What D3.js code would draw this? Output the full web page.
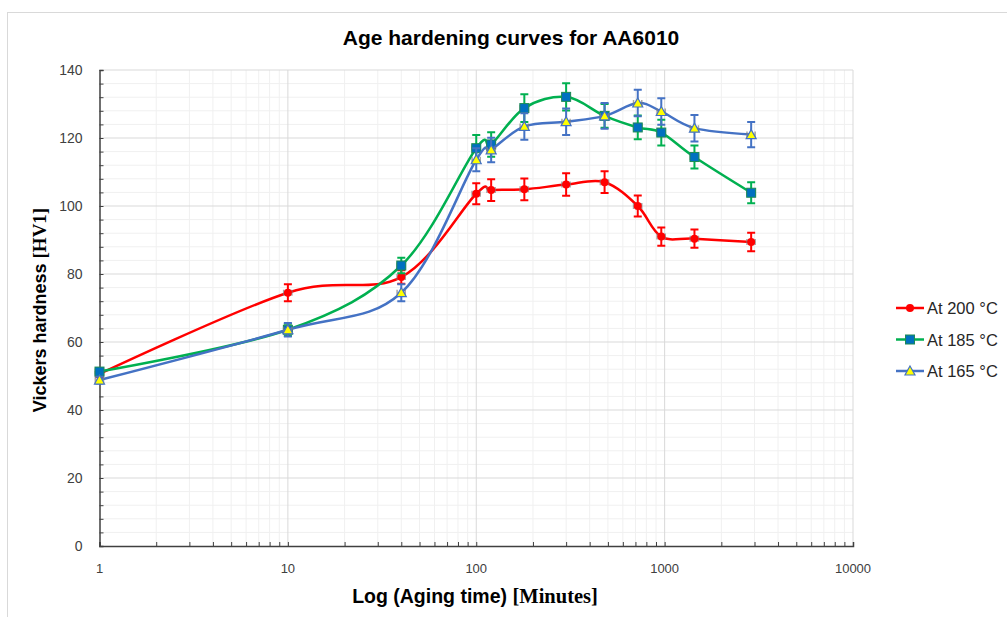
<!DOCTYPE html>
<html lang="en">
<head>
    <meta charset="UTF-8">
    <title>Age hardening curves for AA6010</title>
    <script src="https://cdn.jsdelivr.net/npm/d3@7"></script>
</head>
<body style="margin:0; background:#fff;">
<script>
    // aging time in minutes
    const times = [1, 10, 40, 100, 120, 180, 300, 480, 720, 960, 1440, 2880];

    const hv200 = [50.6, 74.5, 79.1, 103.6, 104.7, 104.9, 106.3, 107.0, 100.0, 91.0, 90.4, 89.4];
    const err200 = [1, 2.5, 2, 3.1, 3.2, 3.2, 3.3, 3.2, 3.1, 2.7, 2.7, 2.7];

    const hv185 = [51.3, 63.6, 82.5, 117.0, 118.1, 128.8, 132.1, 126.5, 123.1, 121.6, 114.4, 103.9];
    const err185 = [1, 1.8, 2.3, 3.9, 3.6, 4.1, 4.0, 3.5, 3.5, 3.8, 3.4, 3.1];

    const hv165 = [48.8, 63.6, 74.5, 113.6, 116.5, 123.4, 124.8, 126.5, 130.3, 127.8, 122.9, 121.0];
    const err165 = [1, 2, 2.5, 3.4, 3.6, 3.9, 3.9, 3.8, 3.9, 3.9, 3.9, 3.7];

    const seriesNames = ["At 200 °C", "At 185 °C", "At 165 °C"];
    const xTicks = [1, 10, 100, 1000, 10000];
    const yTicks = [0, 20, 40, 60, 80, 100, 120, 140];
    const xErrFrac = 0.05; // small x error bars shown at every marker

    const width = 1007, height = 617;
    const margin = {top: 70, right: 154, bottom: 71, left: 99.5};
    const font = "'Liberation Sans', Arial, sans-serif";

    const svg = d3.select("body").append("svg")
        .attr("width", width)
        .attr("height", height)
        .style("display", "block");

    // chart frame
    svg.append("rect")
        .attr("x", 7.5).attr("y", 12.5)
        .attr("width", width).attr("height", height)
        .attr("fill", "none").attr("stroke", "#d9d9d9");

    const x = d3.scaleLog()
        .domain([1, 10000])
        .range([margin.left, width - margin.right]);
    const y = d3.scaleLinear()
        .domain([0, 140])
        .range([height - margin.bottom, margin.top]);

    // minor grid
    const xMinor = [];
    for (let d = 1; d < 10000; d *= 10) for (let k = 2; k <= 9; k++) xMinor.push(d * k);
    const yMinor = d3.range(0, 141, 4).filter(v => v % 20 !== 0);

    const grid = svg.append("g");
    grid.selectAll(".xm").data(xMinor).enter().append("line")
        .attr("x1", d => x(d)).attr("x2", d => x(d))
        .attr("y1", y(0)).attr("y2", y(140))
        .attr("stroke", "#f0f0f0");
    grid.selectAll(".ym").data(yMinor).enter().append("line")
        .attr("x1", x(1)).attr("x2", x(10000))
        .attr("y1", d => y(d)).attr("y2", d => y(d))
        .attr("stroke", "#f0f0f0");
    grid.selectAll(".xM").data(xTicks.slice(1)).enter().append("line")
        .attr("x1", d => x(d)).attr("x2", d => x(d))
        .attr("y1", y(0)).attr("y2", y(140))
        .attr("stroke", "#d9d9d9");
    grid.selectAll(".yM").data(yTicks.slice(1)).enter().append("line")
        .attr("x1", x(1)).attr("x2", x(10000))
        .attr("y1", d => y(d)).attr("y2", d => y(d))
        .attr("stroke", "#d9d9d9");

    // axes (ticks inside)
    const xAxis = g => g
        .attr("transform", `translate(0,${y(0)})`)
        .call(d3.axisTop(x).tickValues(xTicks.concat(xMinor)).tickSize(4).tickFormat(""))
        .call(g => g.select(".domain").attr("stroke", "#404040").attr("stroke-width", 1.5))
        .call(g => g.selectAll(".tick line").attr("stroke", "#404040"));
    const yAxis = g => g
        .attr("transform", `translate(${x(1)},0)`)
        .call(d3.axisRight(y).tickValues(yTicks.concat(yMinor)).tickSize(4).tickFormat(""))
        .call(g => g.select(".domain").attr("stroke", "#404040").attr("stroke-width", 1.5))
        .call(g => g.selectAll(".tick line").attr("stroke", "#404040"));
    svg.append("g").call(xAxis);
    svg.append("g").call(yAxis);

    // tick labels
    svg.append("g").selectAll("text").data(xTicks).enter().append("text")
        .attr("x", d => x(d)).attr("y", y(0) + 27)
        .attr("text-anchor", "middle")
        .attr("font-family", font).attr("font-size", 13).attr("fill", "#404040")
        .text(d => d);
    svg.append("g").selectAll("text").data(yTicks).enter().append("text")
        .attr("x", x(1) - 17).attr("y", d => y(d) + 5)
        .attr("text-anchor", "end")
        .attr("font-family", font).attr("font-size", 14).attr("fill", "#404040")
        .text(d => d);

    // titles
    svg.append("text")
        .attr("x", 511).attr("y", 45)
        .attr("text-anchor", "middle")
        .attr("font-family", font).attr("font-size", 21).attr("font-weight", "bold")
        .attr("fill", "#000")
        .text("Age hardening curves for AA6010");

    const xl = svg.append("text")
        .attr("x", 475).attr("y", 603)
        .attr("text-anchor", "middle")
        .attr("font-family", font).attr("font-size", 19.5).attr("font-weight", "bold");
    xl.append("tspan").text("Log (Aging time) ");
    xl.append("tspan").attr("font-family", "'Liberation Serif', serif").attr("font-size", 20.5).text("[Minutes]");

    const yl = svg.append("text")
        .attr("transform", `translate(46,${(y(0) + y(140)) / 2 + 2}) rotate(-90)`)
        .attr("text-anchor", "middle")
        .attr("font-family", font).attr("font-size", 18).attr("font-weight", "bold");
    yl.append("tspan").text("Vickers hardness ");
    yl.append("tspan").attr("font-family", "'Liberation Serif', serif").attr("font-size", 19).text("[HV1]");

    // series
    const series = [
        {name: seriesNames[0], values: hv200, errs: err200, color: "#ff0000", marker: "circle"},
        {name: seriesNames[1], values: hv185, errs: err185, color: "#00b050", marker: "square"},
        {name: seriesNames[2], values: hv165, errs: err165, color: "#4472c4", marker: "triangle"}
    ];

    const line = d3.line()
        .x(d => x(d.t)).y(d => y(d.v))
        .curve(d3.curveCatmullRom.alpha(0));

    function drawMarker(g, s, cx, cy) {
        if (s.marker === "circle") {
            g.append("circle").attr("cx", cx).attr("cy", cy).attr("r", 4)
                .attr("fill", s.color);
        } else if (s.marker === "square") {
            g.append("rect").attr("x", cx - 4.5).attr("y", cy - 4.5)
                .attr("width", 9).attr("height", 9)
                .attr("fill", "#0070c0").attr("stroke", "#1d8a55").attr("stroke-width", 1);
        } else {
            g.append("path")
                .attr("d", `M${cx},${cy - 5}L${cx + 5},${cy + 4}L${cx - 5},${cy + 4}Z`)
                .attr("fill", "#ffff00").attr("stroke", "#4472c4").attr("stroke-width", 1.2);
        }
    }

    series.forEach(s => {
        const pts = times.map((t, i) => ({t, v: s.values[i], e: s.errs[i]}));
        const g = svg.append("g");

        g.append("path").datum(pts)
            .attr("d", line)
            .attr("fill", "none")
            .attr("stroke", s.color)
            .attr("stroke-width", 2.5);

        // x error bars (gray)
        pts.forEach(p => {
            const x0 = x(p.t * (1 - xErrFrac)), x1 = x(p.t * (1 + xErrFrac)), cy = y(p.v);
            g.append("path")
                .attr("d", `M${x0},${cy}H${x1}M${x0},${cy - 3}V${cy + 3}M${x1},${cy - 3}V${cy + 3}`)
                .attr("stroke", "#7f7f7f").attr("stroke-opacity", 0.7).attr("stroke-width", 1.5)
                .attr("fill", "none");
        });

        // y error bars
        pts.forEach(p => {
            const cx = x(p.t), y0 = y(p.v - p.e), y1 = y(p.v + p.e);
            g.append("path")
                .attr("d", `M${cx},${y0}V${y1}M${cx - 4},${y0}H${cx + 4}M${cx - 4},${y1}H${cx + 4}`)
                .attr("stroke", s.color).attr("stroke-width", 2)
                .attr("fill", "none");
        });

        pts.forEach(p => drawMarker(g, s, x(p.t), y(p.v)));
    });

    // legend
    const legend = svg.append("g");
    series.forEach((s, i) => {
        const ly = 308 + i * 31.5;
        const lg = legend.append("g");
        lg.append("line")
            .attr("x1", 896).attr("x2", 924)
            .attr("y1", ly).attr("y2", ly)
            .attr("stroke", s.color).attr("stroke-width", 2.5);
        drawMarker(lg, s, 910, ly);
        lg.append("text")
            .attr("x", 927).attr("y", ly + 6)
            .attr("font-family", font).attr("font-size", 16.5).attr("fill", "#262626")
            .text(s.name);
    });
</script>
</body>
</html>
